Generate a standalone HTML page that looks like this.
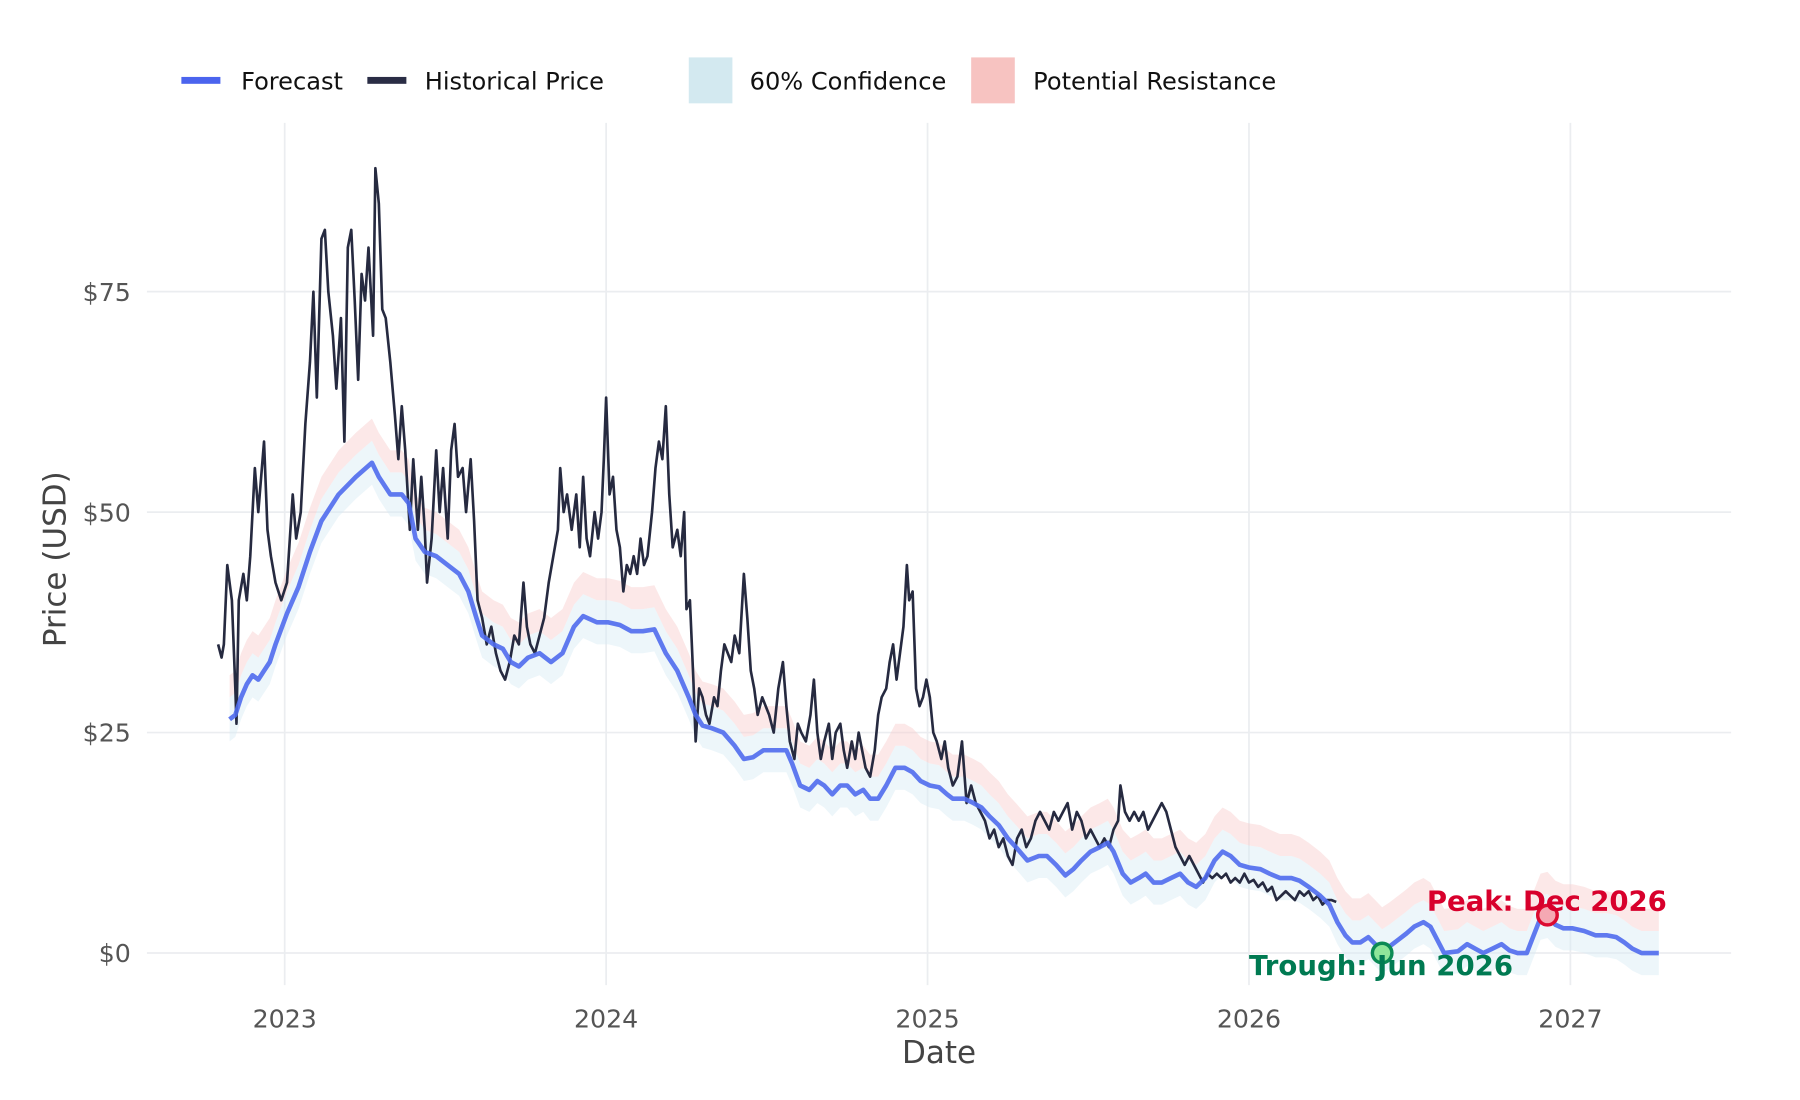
<!DOCTYPE html>
<html><head><meta charset="utf-8"><style>
html,body{margin:0;padding:0;background:#fff;}
svg{display:block;}
text{font-family:"DejaVu Sans","Liberation Sans",sans-serif;}
</style></head><body>
<svg id="s" width="1800" height="1100" viewBox="0 0 1568 958" preserveAspectRatio="none" xmlns="http://www.w3.org/2000/svg">
<rect width="1568" height="958" fill="#fff"/>
<g stroke="#ebedf0" stroke-width="1.5">
<line x1="248" y1="107" x2="248" y2="858"/><line x1="528" y1="107" x2="528" y2="858"/><line x1="808" y1="107" x2="808" y2="858"/><line x1="1088" y1="107" x2="1088" y2="858"/><line x1="1368" y1="107" x2="1368" y2="858"/>
<line x1="128" y1="254" x2="1508" y2="254"/><line x1="128" y1="446" x2="1508" y2="446"/><line x1="128" y1="638" x2="1508" y2="638"/><line x1="128" y1="830" x2="1508" y2="830"/>
</g>
<g id="bands"></g>
<g id="lines"></g>
<g font-size="22" fill="#555" text-anchor="end">
<text x="114" y="262">$75</text><text x="114" y="454">$50</text><text x="114" y="646">$25</text><text x="114" y="838">$0</text>
</g>
<g font-size="22" fill="#555" text-anchor="middle">
<text x="248" y="895">2023</text><text x="528" y="895">2024</text><text x="808" y="895">2025</text><text x="1088" y="895">2026</text><text x="1368" y="895">2027</text>
</g>
<text x="818" y="926" font-size="27" fill="#444" text-anchor="middle">Date</text>
<text transform="translate(57,487) rotate(-90)" font-size="27" fill="#444" text-anchor="middle">Price (USD)</text>
<g font-size="21" fill="#111">
<rect x="158" y="67" width="34" height="6" fill="#4b64ee"/><text x="210" y="78">Forecast</text>
<rect x="320" y="67" width="34" height="6" fill="#2a2d45"/><text x="370" y="78">Historical Price</text>
<rect x="600" y="50" width="38" height="40" fill="#d3e9f0"/><text x="653" y="78">60% Confidence</text>
<rect x="846" y="50" width="38" height="40" fill="#f7c3c1"/><text x="900" y="78">Potential Resistance</text>
</g>
<circle cx="1204" cy="830" r="8.5" fill="#8ee69a" stroke="#0b8a55" stroke-width="3"/>
<circle cx="1348" cy="797" r="8.5" fill="#f5a8b3" stroke="#dc0a30" stroke-width="3"/>
<text x="1243" y="793" font-size="24" font-weight="bold" fill="#d8002c" textLength="209">Peak: Dec 2026</text>
<text x="1088" y="849" font-size="24" font-weight="bold" fill="#007a52" textLength="230">Trough: Jun 2026</text>
</svg>
<script>
var Y=function(v){return 830-v*7.68;};
var H=[190,35,193,33.5,195,35,198,44,202,40,205,30,206,26,208,40,212,43,215,40,218,45,222,55,225,50,230,58,233,48,236,45,240,42,245,40,250,42,255,52,258,47,262,50,266,60,270,67,273,75,276,63,280,81,283,82,286,75,290,70,293,64,297,72,300,58,303,80,306,82,309,74,312,65,315,77,318,74,321,80,325,70,327,89,330,85,333,73,336,72,340,67,344,61,347,56,350,62,353,57,357,48,360,56,364,48,367,54,370,48,372,42,376,47,380,57,383,50,386,55,390,47,393,57,396,60,399,54,403,55,406,50,410,56,413,49,416,40,420,38,424,35,428,37,432,34,436,32,440,31,444,33,448,36,452,35,456,42,459,37,462,35,466,34,470,36,474,38,478,42,482,45,486,48,488,55,491,50,494,52,498,48,502,52,505,46,508,54,511,47,514,45,518,50,521,47,524,50,526,56,528,63,531,52,534,54,537,48,540,46,543,41,546,44,549,43,552,45,555,43,558,47,561,44,564,45,568,50,571,55,574,58,577,56,580,62,583,52,586,46,590,48,593,45,596,50,598,39,601,40,604,31,606,24,609,30,612,29,615,27,618,26,622,29,625,28,628,32,631,35,634,34,637,33,640,36,644,34,648,43,651,38,654,32,657,30,660,27,664,29,667,28,670,27,674,25,678,30,682,33,685,28,688,24,692,22,695,26,698,25,702,24,706,27,709,31,712,25,715,22,718,24,722,26,725,22,728,25,732,26,735,23,738,21,742,24,745,22,748,25,751,23,754,21,758,20,762,23,765,27,768,29,772,30,775,33,778,35,781,31,784,34,787,37,790,44,792,40,795,41,798,30,801,28,804,29,807,31,810,29,813,25,816,24,820,22,823,24,826,21,830,19,834,20,838,24,842,17,846,19,850,17,854,16,858,15,862,13,866,14,870,12,874,13,878,11,882,10,886,13,890,14,894,12,898,13,902,15,906,16,910,15,914,14,918,16,922,15,926,16,930,17,934,14,938,16,942,15,946,13,950,14,954,13,958,12,962,13,966,12,970,14,974,15,976,19,980,16,984,15,988,16,992,15,996,16,1000,14,1004,15,1008,16,1012,17,1016,16,1020,14,1024,12,1028,11,1032,10,1036,11,1040,10,1044,9,1048,8,1052,9,1056,8.5,1060,9,1064,8.5,1068,9,1072,8,1076,8.5,1080,8,1084,9,1088,8,1092,8.3,1096,7.5,1100,8,1104,7,1108,7.5,1112,6,1116,6.5,1120,7,1124,6.5,1128,6,1132,7,1136,6.5,1140,7,1144,6,1148,6.5,1152,5.5,1156,6,1160,6,1164,5.8];
var F=[200,26.5,205,27,210,29,215,30.5,220,31.5,225,31,230,32,235,33,240,35,250,38.5,260,41.5,270,45.5,280,49,295,52,310,54,324,55.6,330,54,340,52,350,52,356,51,362,47,370,45.5,380,45,390,44,400,43,408,41,415,38,420,36,430,35,438,34.5,445,33,452,32.5,460,33.5,470,34,480,33,490,34,500,37,508,38.2,520,37.5,530,37.5,540,37.2,550,36.5,560,36.5,570,36.7,580,34,590,32,600,29,606,27,612,25.8,620,25.5,630,25,640,23.5,648,22,656,22.2,665,23,675,23,685,23,690,21.5,697,19,705,18.5,712,19.5,718,19,725,18,732,19,738,19,745,18,752,18.5,758,17.5,765,17.5,772,19,780,21,788,21,795,20.5,802,19.5,810,19,818,18.8,825,18,830,17.5,840,17.5,848,17,855,16.5,862,15.5,870,14.5,878,13,885,12,895,10.5,905,11,912,11,920,10,928,8.8,935,9.5,942,10.5,950,11.5,958,12,965,12.5,970,11.5,978,9,985,8,992,8.5,998,9,1005,8,1012,8,1020,8.5,1028,9,1035,8,1042,7.5,1050,8.5,1058,10.5,1065,11.5,1072,11,1080,10,1088,9.7,1098,9.5,1106,9,1115,8.5,1125,8.5,1132,8.2,1140,7.5,1150,6.5,1158,5.5,1165,3.5,1172,2,1178,1.2,1185,1.2,1192,1.8,1198,1,1204,0.2,1210,0.7,1218,1.5,1225,2.2,1232,3,1240,3.5,1246,3,1252,1.5,1258,0,1270,0.2,1278,1,1285,0.5,1292,0,1300,0.5,1308,1,1315,0.3,1322,0,1330,0,1336,2,1342,4,1348,4.2,1355,3.2,1362,2.8,1370,2.8,1380,2.5,1390,2,1400,2,1408,1.8,1415,1.2,1422,0.5,1430,0,1445,0];
function pts(a,off){var s=[];for(var i=0;i<a.length;i+=2)s.push(a[i]+','+Y(a[i+1]+off).toFixed(1));return s;}
function band(lo,hi,col,op){var u=pts(F,hi),l=pts(F,lo).reverse();return '<polygon points="'+u.join(' ')+' '+l.join(' ')+'" fill="'+col+'" fill-opacity="'+op+'"/>';}
document.getElementById('bands').innerHTML=band(-2.5,2.5,'#d6ecf3',0.45)+band(2.5,5,'#f9cccc',0.45);
document.getElementById('lines').innerHTML='<polyline points="'+pts(H,0).join(' ')+'" fill="none" stroke="#262a40" stroke-width="2.3" stroke-linejoin="round"/>'+'<polyline points="'+pts(F,0).join(' ')+'" fill="none" stroke="#4f6bed" stroke-width="4" stroke-linejoin="round" stroke-opacity="0.9"/>';
</script>
</body></html>
